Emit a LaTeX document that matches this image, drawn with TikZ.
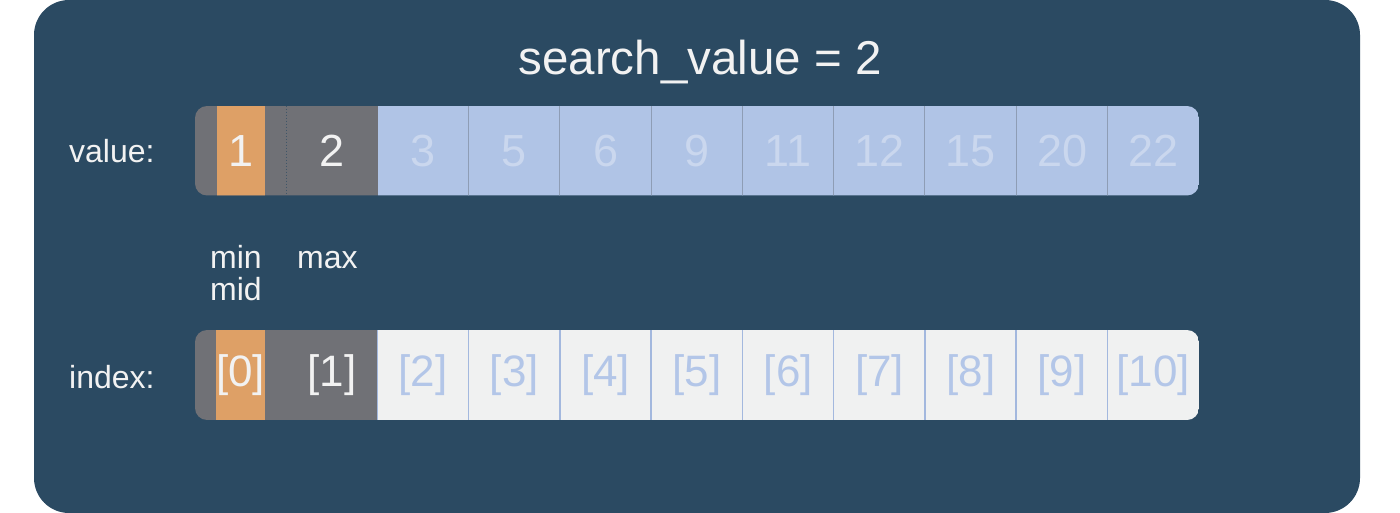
\documentclass[tikz,border=0pt]{standalone}
\usepackage{fontspec}
\setmainfont{Liberation Sans}
\definecolor{bg}{HTML}{2B4A62}
\definecolor{cellblue}{HTML}{B0C4E6}
\definecolor{cellgrey}{HTML}{F0F1F1}
\definecolor{hlgrey}{HTML}{707176}
\definecolor{hlorange}{HTML}{DEA066}
\definecolor{txt}{HTML}{F2F2F2}
\definecolor{faint}{HTML}{CAD7EE}
\definecolor{idxtxt}{HTML}{B3C6E8}
\definecolor{divv}{HTML}{8E9DB5}
\definecolor{divi}{HTML}{A3B8DE}
\begin{document}
\begin{tikzpicture}[x=1pt,y=-1pt,
  cell/.style={rectangle, inner sep=0pt, minimum width=91.27pt, minimum height=90pt},
  hlbox/.style={rectangle, inner sep=0pt, minimum width=48pt, minimum height=90pt, fill=hlorange},
  valtext/.style={font=\fontsize{45}{50}\selectfont},
  idxtext/.style={font=\fontsize{44}{50}\selectfont},
  lbl/.style={inner sep=0pt, text=txt, font=\fontsize{32}{34}\selectfont},
  titletext/.style={inner sep=0pt, text=txt, font=\fontsize{47.5}{50}\selectfont},
  divlinev/.style={draw=divv, line width=1pt},
  divlinei/.style={draw=divi, line width=1.5pt},
  divgrey/.style={draw=bg!70!hlgrey, line width=1pt, dotted}
]
\useasboundingbox (0,0) rectangle (1400,513);
\fill[bg, rounded corners=35pt] (34,0) rectangle (1360,513);

% title
\node[titletext, anchor=base] (title) at (700,75) {search\_value = 2};

% value row
\begin{scope}
\clip[rounded corners=12pt] (195,106) rectangle (1199,195.5);
\node[cell, fill=hlgrey] (v0) at (240.64,150.75) {};
\node[hlbox, valtext, text=txt] (v0h) at (v0.center) {1};
\foreach \i/\t in {1/2,2/3,3/5,4/6,5/9,6/11,7/12,8/15,9/20,10/22}{
  \pgfmathsetmacro\cx{195+(\i+0.5)*91.27}
  \ifnum\i<2 \def\fc{hlgrey}\def\tc{txt}\else\def\fc{cellblue}\def\tc{faint}\fi
  \node[cell, valtext, fill=\fc, text=\tc] (v\i) at (\cx,150.75) {\t};
}
\draw[divgrey] (v1.north west) -- (v1.south west);
\foreach \i in {3,...,10}{
  \draw[divlinev] (v\i.north west) -- (v\i.south west);
}
\end{scope}

% index row
\begin{scope}
\clip[rounded corners=12pt] (195,330) rectangle (1199,420);
\node[cell, fill=hlgrey] (i0) at (240.64,375) {};
\node[hlbox, idxtext, text=txt] (i0h) at (i0.center) {[0]};
\foreach \i in {1,...,10}{
  \pgfmathsetmacro\cx{195+(\i+0.5)*91.27}
  \ifnum\i<2 \def\fc{hlgrey}\def\tc{txt}\else\def\fc{cellgrey}\def\tc{idxtxt}\fi
  \node[cell, idxtext, fill=\fc, text=\tc] (i\i) at (\cx,375) {[\i]};
}
\foreach \i in {2,...,10}{
  \draw[divlinei] (i\i.north west) -- (i\i.south west);
}
\end{scope}

% labels
\node[lbl, anchor=base west] (lval) at (69,163) {value:};
\node[lbl, anchor=base west] (lidx) at (69,388) {index:};
\node[lbl, anchor=base west] (lmin) at (210,269) {min};
\node[lbl, anchor=base west] (lmid) at (210,300) {mid};
\node[lbl, anchor=base west] (lmax) at (297,269) {max};
\end{tikzpicture}
\end{document}
